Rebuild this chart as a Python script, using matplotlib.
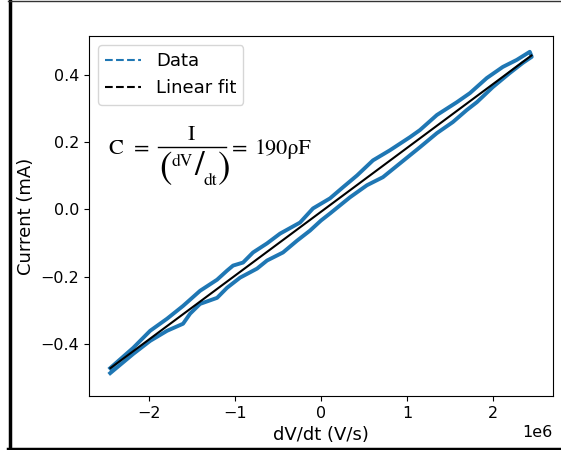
import matplotlib
matplotlib.use("Agg")
from matplotlib import pyplot as plt
from matplotlib.lines import Line2D

# dV/dt in units of 1e6 V/s, current in mA
up_x = [-2.453, -2.186, -1.988, -1.791, -1.605, -1.407, -1.209, -1.093, -1.023, -0.907,
        -0.791, -0.628, -0.477, -0.244, -0.093, 0.105, 0.256, 0.419, 0.605, 0.802,
        1.035, 1.151, 1.349, 1.581, 1.733, 1.930, 2.116, 2.279, 2.430]
up_y = [-0.472, -0.412, -0.361, -0.325, -0.287, -0.242, -0.209, -0.182, -0.167, -0.158,
        -0.128, -0.101, -0.072, -0.039, 0.003, 0.033, 0.066, 0.101, 0.146, 0.176,
        0.215, 0.236, 0.281, 0.319, 0.346, 0.391, 0.424, 0.445, 0.469]

low_x = [-2.453, -2.186, -1.988, -1.791, -1.605, -1.523, -1.407, -1.209, -1.093,
         -0.942, -0.744, -0.628, -0.442, -0.279, -0.128, 0.0, 0.105, 0.337, 0.535,
         0.721, 0.919, 1.151, 1.349, 1.535, 1.698, 1.814, 2.000, 2.198, 2.349, 2.453]
low_y = [-0.487, -0.430, -0.391, -0.361, -0.340, -0.310, -0.281, -0.263, -0.233,
         -0.203, -0.176, -0.152, -0.128, -0.093, -0.063, -0.033, -0.012, 0.036, 0.072,
         0.096, 0.137, 0.185, 0.227, 0.260, 0.296, 0.319, 0.364, 0.406, 0.436, 0.454]

fit_x = [-2.45, 2.45]
fit_y = [-0.472, 0.458]

plt.rcParams["font.size"] = 13

W, H = 561, 450
fig = plt.figure(figsize=(W / 100, H / 100), dpi=100)
ax = fig.add_axes([0.1586, 0.12, 0.8271, 0.80])

# loop: lower branch going up, upper branch coming back
xs = [v * 1e6 for v in low_x + up_x[::-1]]
ys = low_y + up_y[::-1]
ax.plot(xs, ys, color="tab:blue", lw=2.8, solid_joinstyle="round")
ax.plot([v * 1e6 for v in fit_x], fit_y, color="black", lw=1.5)

ax.set_xlim(-2.7e6, 2.7e6)
ax.set_ylim(-0.555, 0.516)
ax.set_xticks([-2e6, -1e6, 0, 1e6, 2e6])
ax.set_yticks([-0.4, -0.2, 0.0, 0.2, 0.4])
ax.tick_params(labelsize=11.5)
ax.xaxis.get_offset_text().set_fontsize(11.5)
ax.set_xlabel("dV/dt (V/s)")
ax.set_ylabel("Current (mA)")

handles = [Line2D([], [], color="tab:blue", ls="--"),
           Line2D([], [], color="black", ls="--")]
ax.legend(handles, ["Data", "Linear fit"], loc="upper left")


# formula, placed piece by piece (pixel positions in the figure)
def px(x, y):
    return x / W, 1 - y / H


serif = "STIXGeneral"
fig.text(*px(108, 154), "C", fontsize=16, family=serif, va="baseline")
fig.text(*px(134, 154), "=", fontsize=16, family=serif, va="baseline")
fig.text(*px(191, 140), "I", fontsize=16, family=serif, va="baseline", ha="center")
fig.add_artist(Line2D([158 / W, 226 / W], [1 - 147 / H, 1 - 147 / H], color="black",
                      lw=1.0, transform=fig.transFigure))
fig.text(*px(159, 169), "(", fontsize=27, family=serif, va="center")
fig.text(*px(171, 166), "dV", fontsize=12.5, family=serif, va="baseline")
fig.text(*px(194, 167), "/", fontsize=25, family=serif, va="center")
fig.text(*px(204, 185), "dt", fontsize=12.5, family=serif, va="baseline")
fig.text(*px(218, 169), ")", fontsize=27, family=serif, va="center")
fig.text(*px(232, 154), "=", fontsize=16, family=serif, va="baseline")
fig.text(*px(255, 154), "190\u03c1F", fontsize=16, family=serif, va="baseline")

# frame round the picture (left, top, bottom)
fig.add_artist(Line2D([9.5 / W, 9.5 / W], [0, 1], color="black", lw=2.5,
                      transform=fig.transFigure))
fig.add_artist(Line2D([8 / W, 1], [1.5 / H, 1.5 / H], color="black", lw=2.5,
                      transform=fig.transFigure))
fig.add_artist(Line2D([8 / W, 1], [449.5 / H, 449.5 / H], color="#333333", lw=1.0,
                      transform=fig.transFigure))

fig.savefig("out.png", dpi=100)
